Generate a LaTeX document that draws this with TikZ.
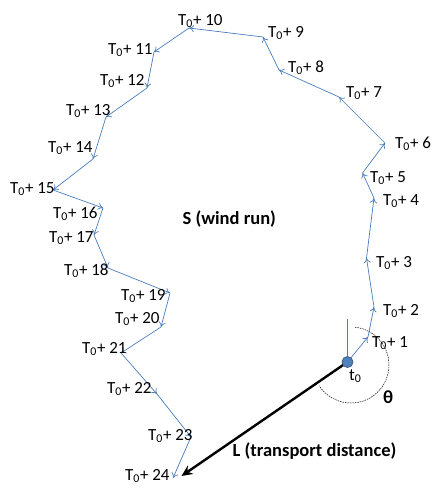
\documentclass[tikz,border=0pt]{standalone}
\usepackage{fontspec}
\setmainfont{Carlito}
\usetikzlibrary{arrows.meta}
\definecolor{windblue}{RGB}{74,126,187}
\definecolor{dotblue}{RGB}{79,129,189}
\definecolor{dotedge}{RGB}{56,93,138}
\begin{document}
\begin{tikzpicture}[x=1pt,y=-1pt]
	% styles
	\tikzstyle{hop} = [draw=windblue,line width=0.7pt,-{To[length=5pt,width=7pt]}]
	\tikzstyle{lbl} = [anchor=base west,inner sep=0pt,font=\fontsize{17}{20}\selectfont]
	\tikzstyle{bold} = [lbl,font=\fontsize{18.5}{22}\selectfont\bfseries]
	
	% bounding box
	\useasboundingbox (0,0) rectangle (433,488);
	
	% hourly positions of the air parcel
	\foreach \i/\x/\y in {0/347.5/362, 1/368/337, 2/374/307, 3/366.5/258, 4/374/198,
		5/362.5/173, 6/385/143, 7/339/97, 8/279/70, 9/263/37, 10/189/28,
		11/154/52, 12/147/88, 13/106/117, 14/93/159, 15/53/190, 16/103/208,
		17/94/235, 18/108/268, 19/170/293, 20/161/327, 21/121/353,
		22/157/394, 23/191/437, 24/173/478}
	{
		\coordinate (p\i) at (\x,\y);
	}
	
	% wind run
	\foreach \i [remember=\i as \j (initially 0)] in {1,...,24}
	{
		\draw[hop] (p\j) -- (p\i);
	}
	
	% labels
	\foreach \i/\x/\y in {1/372/347, 2/383/315, 3/376/267, 4/383/205, 5/370/182,
		6/395/148, 7/346/97, 8/288/72, 9/268/37, 10/178/25, 11/108/54,
		12/100/85, 13/66/115, 14/48/152, 15/10/193, 16/53/218, 17/49/242,
		18/64/275, 19/121/300, 20/115/323, 21/82/353, 22/107/393,
		23/148/440, 24/125/480}
	{
		\node[lbl] (t\i) at (\x,\y) {T\textsubscript{0}+ \i};
	}
	
	% direction
	\coordinate (north) at (347.5,319);
	\coordinate (arcc) at (351,365);
	\draw[windblue,line width=0.7pt] (p0) -- (north);
	\draw[line width=0.5pt,dash pattern=on 1.5pt off 1pt] ([shift={(-84:38)}]arcc) arc[start angle=-84,end angle=147,radius=38];
	\node[bold] (theta) at (383,403) {θ};
	
	% transport distance
	\coordinate (end) at (181.5,476);
	\draw[black,line width=2.4pt,-{Stealth[length=11pt,width=10pt]}] (p0) -- (end);
	\draw[fill=dotblue,draw=dotedge,line width=0.8pt] (p0) circle (5.5);
	\node[lbl] (start) at (349,380) {t\textsubscript{0}};
	
	% texts
	\node[bold] (S) at (182.5,224) {S (wind run)};
	\node[bold] (L) at (232.5,456.5) {L (transport distance)};
\end{tikzpicture}
\end{document}
